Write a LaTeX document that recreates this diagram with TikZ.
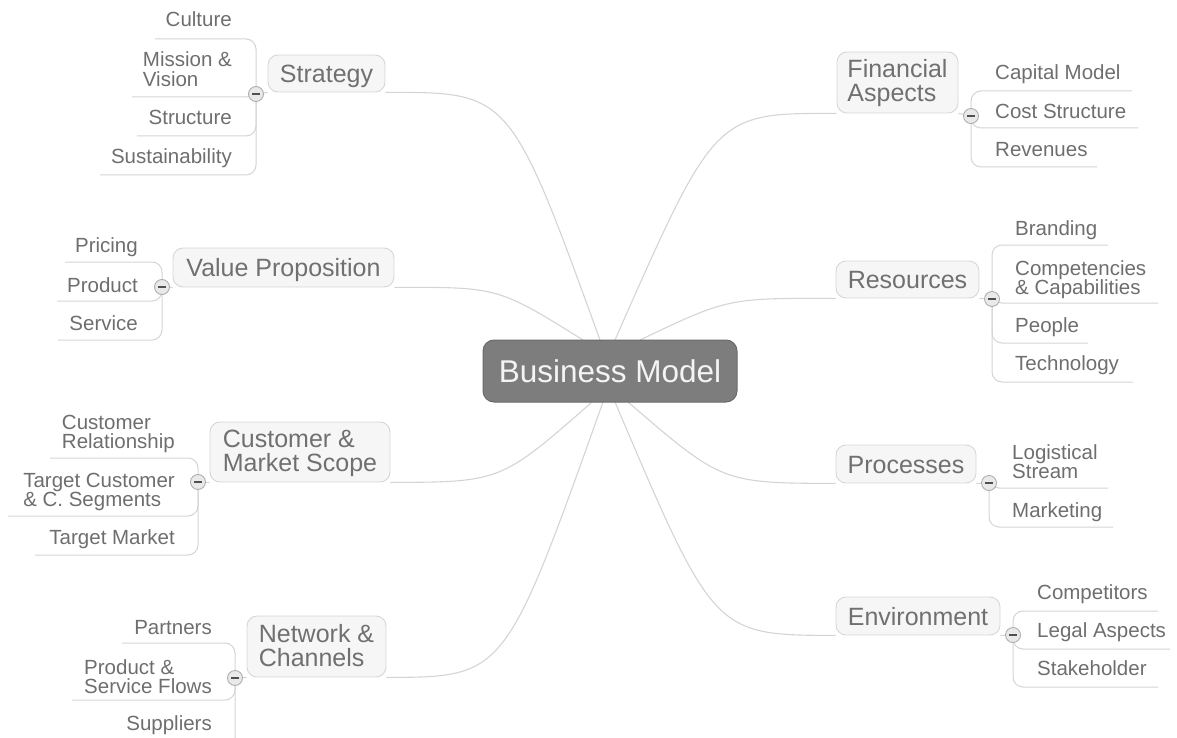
\documentclass[tikz,border=0pt]{standalone}
\usepackage{fontspec}
\setmainfont{Liberation Sans}
\usetikzlibrary{backgrounds}
\definecolor{linegray}{HTML}{D4D4D4}
\definecolor{leaftext}{HTML}{6E6E6E}
\definecolor{topictext}{HTML}{707070}
\definecolor{topicfill}{HTML}{F6F6F6}
\definecolor{topicdraw}{HTML}{D6D6D6}
\definecolor{centerfill}{HTML}{7D7D7D}
\definecolor{centerdraw}{HTML}{6A6A6A}
\definecolor{centertext}{HTML}{F4F4F4}
\definecolor{btndraw}{HTML}{ADADAD}
\definecolor{btnfill}{HTML}{E9E9E9}
\definecolor{btnminus}{HTML}{505050}
\newcommand\mltext[2]{\vtop{\lineskiplimit=-1000pt\hbox{#1}\hbox{#2}}}
\tikzset{
  leaf/.style={inner sep=0pt, text=leaftext, font=\fontsize{20.5}{19.5}\selectfont},
  topic/.style={draw=topicdraw, fill=topicfill, rounded corners=10pt, line width=0.9pt,
    text=topictext, font=\fontsize{25}{24}\selectfont, inner sep=0pt,
    text height=18pt, text depth=0pt},
  topictwo/.style={topic, text height=19pt, text depth=28pt},
  centre/.style={draw=centerdraw, fill=centerfill, rounded corners=11pt, line width=1pt,
    text=centertext, font=\fontsize{31.5}{32}\selectfont, inner sep=0pt,
    text height=22.5pt, text depth=0pt},
  branch/.style={draw=linegray, line width=1.1pt},
  twig/.style={draw=linegray, line width=1pt, rounded corners=10pt},
  btn/.style={circle, minimum size=15pt, inner sep=0pt, draw=btndraw, fill=btnfill,
    line width=0.9pt, font=\fontsize{10}{10}\selectfont}
}
\newcommand\minus{\textcolor{btnminus}{\rule{8pt}{2.6pt}}}
\begin{document}
\begin{tikzpicture}[x=1pt,y=-1pt]
\useasboundingbox (0,0) rectangle (1177,738);

% central topic
\node[centre, minimum width=254pt, minimum height=62pt] (bm) at (610,371) {Business Model};
\coordinate (cS) at (600,340);
\coordinate (cV) at (583,340);
\coordinate (cF) at (615,340);
\coordinate (cR) at (640,340);
\coordinate (cC) at (592,402);
\coordinate (cN) at (603,402);
\coordinate (cE) at (615,402);
\coordinate (cP) at (628,402);

% main topics
\node[topic, minimum width=117pt, minimum height=37pt] (strategy) at (326.5,73.5) {Strategy};
\node[topic, minimum width=221pt, minimum height=39pt] (value) at (283.5,267.5) {Value Proposition};
\node[topictwo, minimum width=180pt, minimum height=60pt] (customer) at (300,452) {\mltext{Customer \&}{Market Scope}};
\node[topictwo, minimum width=139pt, minimum height=61pt] (network) at (316.5,646.5) {\mltext{Network \&}{Channels}};
\node[topictwo, minimum width=121pt, minimum height=61pt] (financial) at (897.5,82.5) {\mltext{Financial}{Aspects}};
\node[topic, minimum width=143pt, minimum height=37pt] (resources) at (907.5,279.5) {Resources};
\node[topic, minimum width=140pt, minimum height=38pt] (processes) at (906,464) {Processes};
\node[topic, minimum width=164pt, minimum height=38pt] (environment) at (918,616) {Environment};

% collapse buttons
\node[btn] (bS) at (256,94) {\minus};
\node[btn] (bV) at (162,287) {\minus};
\node[btn] (bC) at (198,482) {\minus};
\node[btn] (bN) at (235,678) {\minus};
\node[btn] (bF) at (971,116) {\minus};
\node[btn] (bR) at (992,299) {\minus};
\node[btn] (bP) at (989,483) {\minus};
\node[btn] (bE) at (1013,635) {\minus};

% leaves: Strategy
\node[leaf, anchor=base east] (culture) at (232,27) {Culture};
\node[leaf, anchor=base east] (mission) at (232,67) {\mltext{Mission \&}{Vision}};
\node[leaf, anchor=base east] (structure) at (232,125) {Structure};
\node[leaf, anchor=base east] (sustain) at (232,164) {Sustainability};
\coordinate (u-culture) at (155,39);
\coordinate (u-mission) at (132,97);
\coordinate (u-structure) at (137,136);
\coordinate (u-sustain) at (100,175);

% leaves: Value Proposition
\node[leaf, anchor=base east] (pricing) at (138,252) {Pricing};
\node[leaf, anchor=base east] (product) at (138,292) {Product};
\node[leaf, anchor=base east] (service) at (138,330) {Service};
\coordinate (u-pricing) at (65,262);
\coordinate (u-product) at (57,301);
\coordinate (u-service) at (58,340);

% leaves: Customer & Market Scope
\node[leaf, anchor=base east] (custrel) at (175,429) {\mltext{Customer}{Relationship}};
\node[leaf, anchor=base east] (target) at (175,487) {\mltext{Target Customer}{\& C. Segments}};
\node[leaf, anchor=base east] (tmarket) at (175,544) {Target Market};
\coordinate (u-custrel) at (50,458);
\coordinate (u-target) at (8,516);
\coordinate (u-tmarket) at (35,555);

% leaves: Network & Channels
\node[leaf, anchor=base east] (partners) at (212,634) {Partners};
\node[leaf, anchor=base east] (flows) at (212,674) {\mltext{Product \&}{Service Flows}};
\node[leaf, anchor=base east] (suppliers) at (212,730) {Suppliers};
\coordinate (u-partners) at (122,643);
\coordinate (u-flows) at (72,700);
\coordinate (u-suppliers) at (115,748);

% leaves: Financial Aspects
\node[leaf, anchor=base west] (capital) at (995,80) {Capital Model};
\node[leaf, anchor=base west] (cost) at (995,119) {Cost Structure};
\node[leaf, anchor=base west] (revenues) at (995,157) {Revenues};
\coordinate (u-capital) at (1132,91);
\coordinate (u-cost) at (1138,128);
\coordinate (u-revenues) at (1097,167);

% leaves: Resources
\node[leaf, anchor=base west] (branding) at (1015,235) {Branding};
\node[leaf, anchor=base west] (compet) at (1015,275) {\mltext{Competencies}{\& Capabilities}};
\node[leaf, anchor=base west] (people) at (1015,332) {People};
\node[leaf, anchor=base west] (techn) at (1015,370) {Technology};
\coordinate (u-branding) at (1108,245);
\coordinate (u-compet) at (1158,303);
\coordinate (u-people) at (1088,343);
\coordinate (u-techn) at (1133,382);

% leaves: Processes
\node[leaf, anchor=base west] (logist) at (1012,459) {\mltext{Logistical}{Stream}};
\node[leaf, anchor=base west] (marketing) at (1012,517) {Marketing};
\coordinate (u-logist) at (1108,488);
\coordinate (u-marketing) at (1113,527);

% leaves: Environment
\node[leaf, anchor=base west] (competitors) at (1037,599) {Competitors};
\node[leaf, anchor=base west] (legal) at (1037,637) {Legal Aspects};
\node[leaf, anchor=base west] (stake) at (1037,675) {Stakeholder};
\coordinate (u-competitors) at (1158,611);
\coordinate (u-legal) at (1170,649);
\coordinate (u-stake) at (1158,687);

\begin{pgfonlayer}{background}
% main branches
\draw[branch] (cS) .. controls (510,92) .. (strategy.south east);
\draw[branch] (cV) .. controls (498,287) .. (value.south east);
\draw[branch] (cC) .. controls (501,482) .. (customer.south east);
\draw[branch] (cN) .. controls (505,677) .. (network.south east);
\draw[branch] (cF) .. controls (715,113) .. (financial.south west);
\draw[branch] (cR) .. controls (728,298) .. (resources.south west);
\draw[branch] (cP) .. controls (722,483) .. (processes.south west);
\draw[branch] (cE) .. controls (714,635) .. (environment.south west);
% topic to button
\draw[branch] (strategy.south west) -- (bS);
\draw[branch] (value.south west) -- (bV);
\draw[branch] (customer.south west) -- (bC);
\draw[branch] (network.south west) -- (bN);
\draw[branch] (financial.south east) -- (bF);
\draw[branch] (resources.south east) -- (bR);
\draw[branch] (processes.south east) -- (bP);
\draw[branch] (environment.south east) -- (bE);
% twigs
\draw[twig] (bS.center) |- (u-culture);
\draw[twig] (bS.center) |- (u-mission);
\draw[twig] (bS.center) |- (u-structure);
\draw[twig] (bS.center) |- (u-sustain);
\draw[twig] (bV.center) |- (u-pricing);
\draw[twig] (bV.center) |- (u-product);
\draw[twig] (bV.center) |- (u-service);
\draw[twig] (bC.center) |- (u-custrel);
\draw[twig] (bC.center) |- (u-target);
\draw[twig] (bC.center) |- (u-tmarket);
\draw[twig] (bN.center) |- (u-partners);
\draw[twig] (bN.center) |- (u-flows);
\draw[twig] (bN.center) |- (u-suppliers);
\draw[twig] (bF.center) |- (u-capital);
\draw[twig] (bF.center) |- (u-cost);
\draw[twig] (bF.center) |- (u-revenues);
\draw[twig] (bR.center) |- (u-branding);
\draw[twig] (bR.center) |- (u-compet);
\draw[twig] (bR.center) |- (u-people);
\draw[twig] (bR.center) |- (u-techn);
\draw[twig] (bP.center) |- (u-logist);
\draw[twig] (bP.center) |- (u-marketing);
\draw[twig] (bE.center) |- (u-competitors);
\draw[twig] (bE.center) |- (u-legal);
\draw[twig] (bE.center) |- (u-stake);
\end{pgfonlayer}
\end{tikzpicture}
\end{document}
